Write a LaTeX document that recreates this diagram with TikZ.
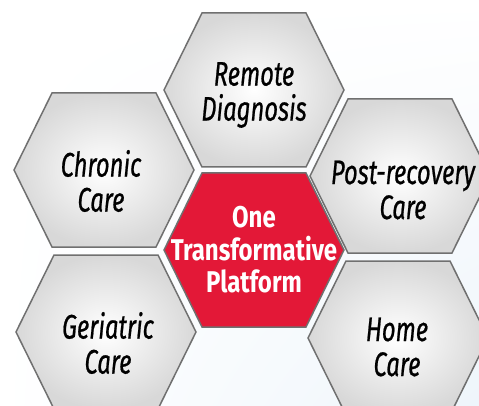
\documentclass[tikz,border=0pt]{standalone}
\usepackage{fontspec}
\usepackage{xcolor}
\usetikzlibrary{shadings}
\newfontfamily\hexfont[FakeStretch=0.70,FakeBold=0.6]{Fira Sans}
\newfontfamily\corefont[FakeStretch=0.8]{Fira Sans}
\definecolor{hexred}{HTML}{E31837}
\definecolor{hexline}{HTML}{707070}
\definecolor{hexgray}{HTML}{D8D8D8}
\definecolor{bgblue}{HTML}{EEF5FB}
\newcommand{\hexat}[2]{(#1-90,#2) -- (#1-52,#2-77) -- (#1+52,#2-77) -- (#1+90,#2) -- (#1+52,#2+77) -- (#1-52,#2+77) -- cycle}

\begin{document}
\begin{tikzpicture}[x=1pt,y=-1pt,
  hexgrey/.style={draw=hexline,line width=1.5pt,inner color=white,outer color=hexgray},
  hexcore/.style={draw=hexline,line width=1.5pt,fill=hexred},
  hextext/.style={align=center,font=\hexfont\itshape\fontsize{34}{35}\selectfont,text=black},
  coretext/.style={align=center,font=\corefont\bfseries\fontsize{30}{32.5}\selectfont,text=white}]
\useasboundingbox (0,0) rectangle (479,406);
\clip (0,0) rectangle (479,406);
\shade[upper left=white,upper right=white,lower left=white,lower right=bgblue] (0,0) rectangle (479,406);
% outer ring
\foreach \cx/\cy in {254/90,104/170,400/176,106/332,398/338}
  \shade[hexgrey] \hexat{\cx}{\cy};
\draw[hexcore] \hexat{254}{250};
% labels
\node[hextext] (remote) at (254,95) {Remote\\Diagnosis};
\node[hextext] (chronic) at (101,181) {Chronic\\Care};
\node[hextext] (postrec) at (403,190) {Post-recovery\\Care};
\node[hextext] (geriatric) at (108,343) {Geriatric\\Care};
\node[hextext] (home) at (397,347) {Home\\Care};
\node[coretext] (platform) at (254,250) {One\\Transformative\\Platform};
\end{tikzpicture}
\end{document}
